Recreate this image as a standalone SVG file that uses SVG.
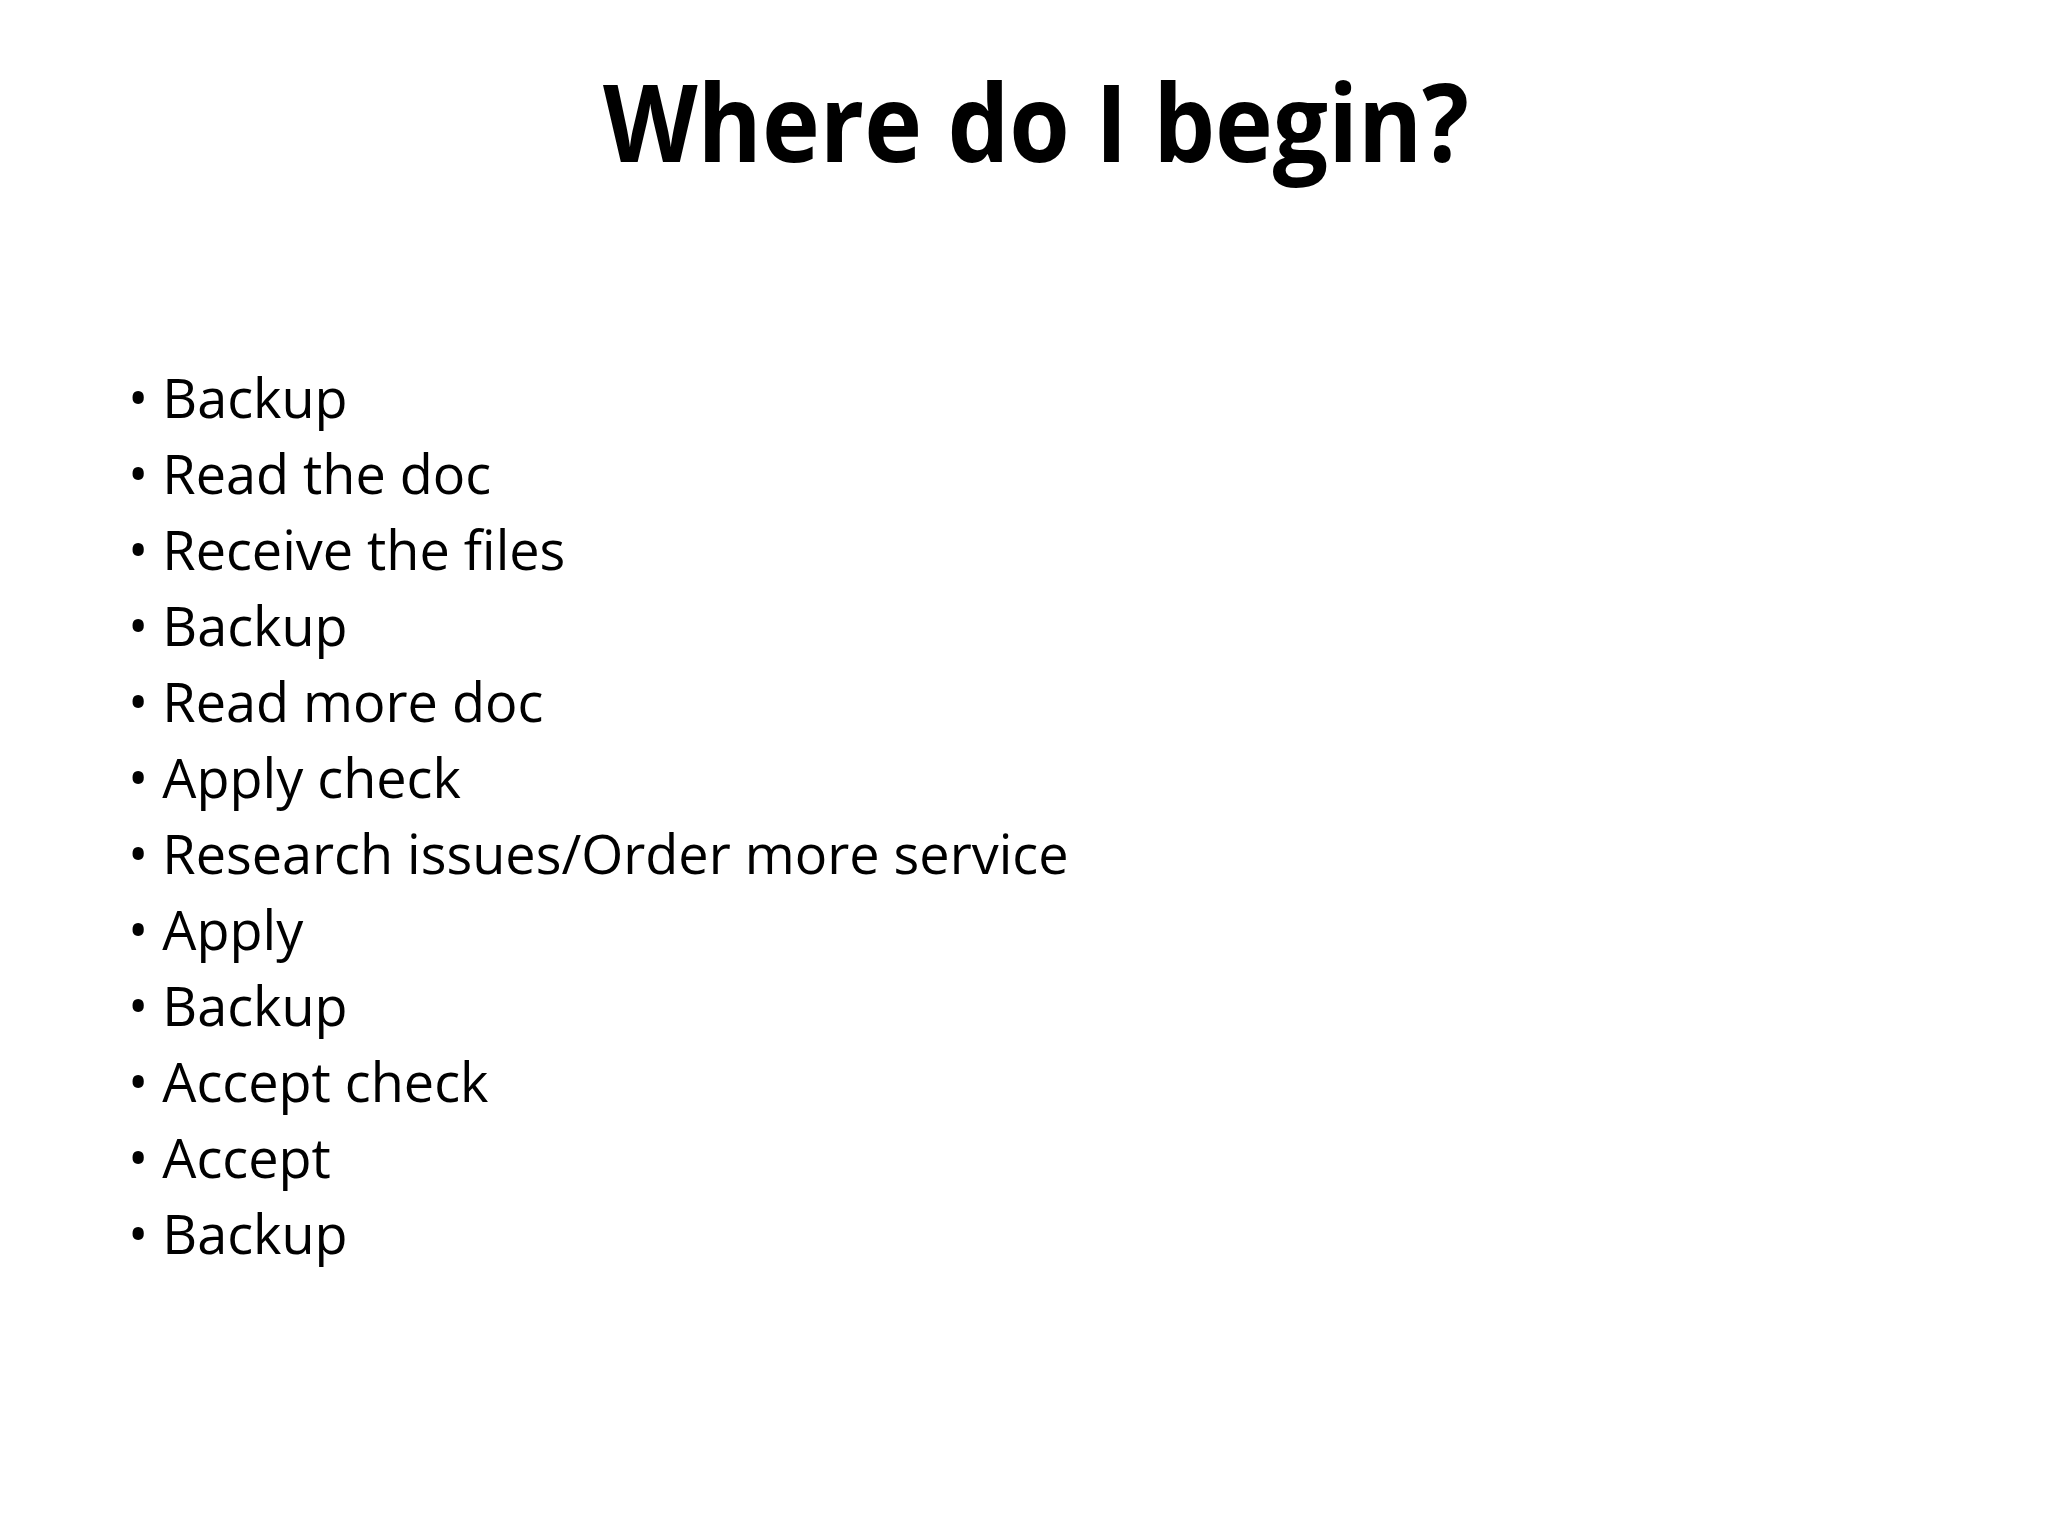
<svg xmlns="http://www.w3.org/2000/svg" width="2048" height="1536" viewBox="0 0 2048 1536">
<style>
.t{font-family:"Open Sans","Liberation Sans",sans-serif;font-weight:bold;font-size:108px;fill:#000}
.b{font-family:"Open Sans","Liberation Sans",sans-serif;font-size:54px;fill:#000}
</style>
<rect width="2048" height="1536" fill="#fff"/>
<text class="t" x="1036" y="162" text-anchor="middle" textLength="866" lengthAdjust="spacingAndGlyphs">Where do I begin?</text>
<g id="list">
<text class="b" x="128" y="418">• Backup</text>
<text class="b" x="128" y="494">• Read the doc</text>
<text class="b" x="128" y="570">• Receive the files</text>
<text class="b" x="128" y="646">• Backup</text>
<text class="b" x="128" y="722">• Read more doc</text>
<text class="b" x="128" y="798">• Apply check</text>
<text class="b" x="128" y="874">• Research issues/Order more service</text>
<text class="b" x="128" y="950">• Apply</text>
<text class="b" x="128" y="1026">• Backup</text>
<text class="b" x="128" y="1102">• Accept check</text>
<text class="b" x="128" y="1178">• Accept</text>
<text class="b" x="128" y="1254">• Backup</text>
</g>
</svg>
